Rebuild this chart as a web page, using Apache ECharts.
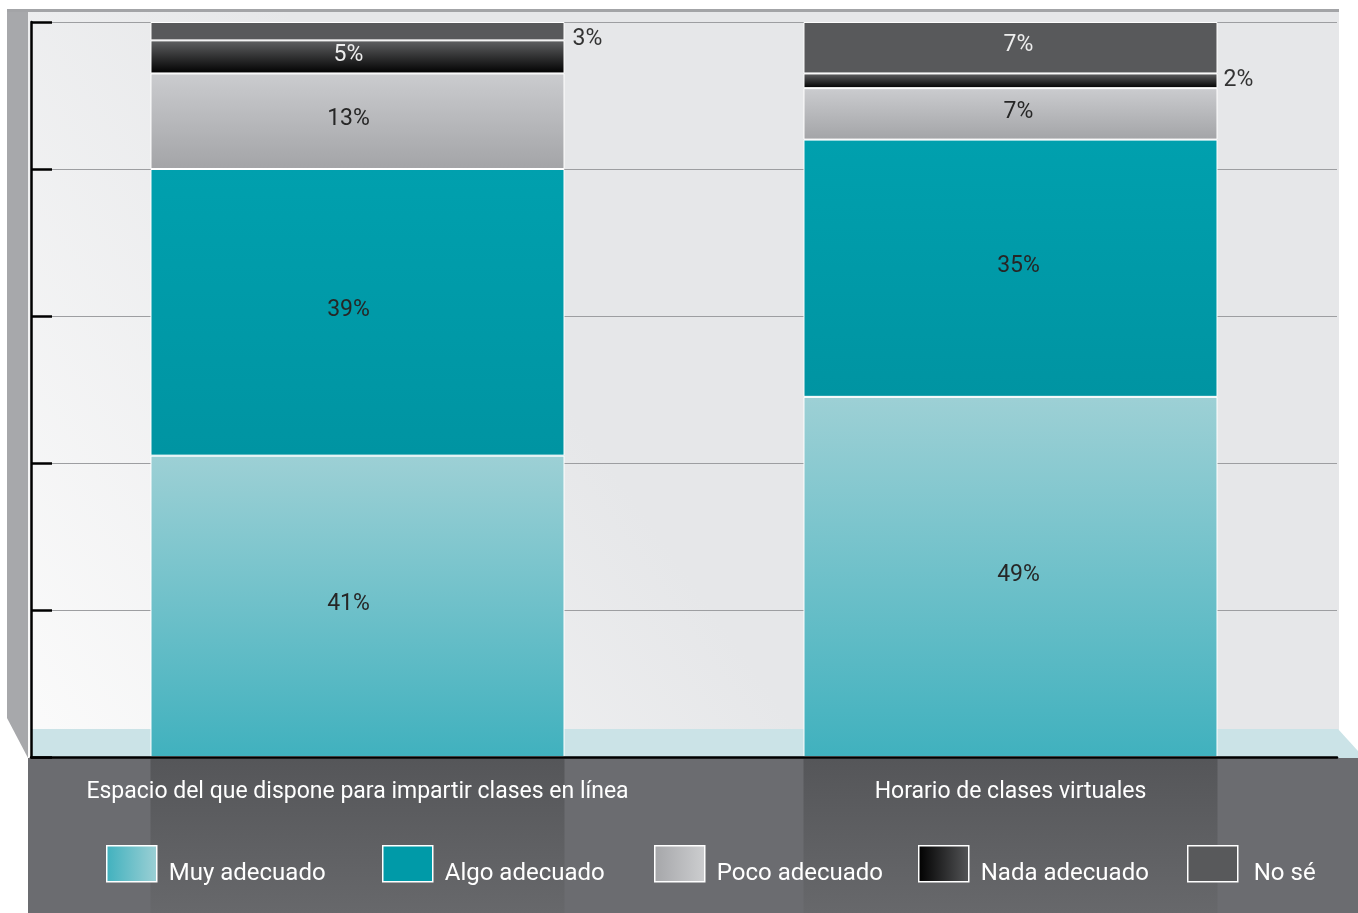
<!DOCTYPE html>
<html>
<head>
<meta charset="UTF-8">
<title>Valoración de espacio y horario</title>
<script src="https://cdn.jsdelivr.net/npm/echarts@6/dist/echarts.min.js"></script>
<style>
  body { margin: 0; background: #fff; }
</style>
</head>
<body>
<div id="main" style="width: 1358px;height:913px;"></div>
<script type="text/javascript">
// datos (porcentajes)
var categories = ['Espacio del que dispone para impartir clases en línea', 'Horario de clases virtuales'];
var seriesNames = ['Muy adecuado', 'Algo adecuado', 'Poco adecuado', 'Nada adecuado', 'No sé'];
var muyAdecuado = [41, 49];
var algoAdecuado = [39, 35];
var pocoAdecuado = [13, 7];
var nadaAdecuado = [4.5, 2];
var noSe = [2.5, 7];
var yTicks = [0, 20, 40, 60, 80, 100];

var FONT = 'Roboto';

function vgrad(top, bottom) {
    return new echarts.graphic.LinearGradient(0, 0, 0, 1, [
        {offset: 0, color: top}, {offset: 1, color: bottom}
    ]);
}
function hgrad(left, right) {
    return new echarts.graphic.LinearGradient(0, 0, 1, 0, [
        {offset: 0, color: left}, {offset: 1, color: right}
    ]);
}

var colors = [
    vgrad('#9dd0d5', '#40b1be'),
    vgrad('#00a0ae', '#0094a2'),
    vgrad('#cbcccf', '#a3a4a7'),
    vgrad('#606163', '#000000'),
    '#58595b'
];
var legendColors = [
    hgrad('#40b1be', '#9dd0d5'),
    '#009aa8',
    hgrad('#a5a6a9', '#cdced0'),
    hgrad('#000000', '#555658'),
    '#58595b'
];
var labelColors = ['#262626', '#262626', '#262626', '#eeeeee', '#eeeeee'];

// desplazamiento de etiquetas por columna (efecto 3D del original)
var insideShift = [[-9, -2], [8, -2]];
var outsideShift = [[0, 8], [-2, -1]];

function buildData(values) {
    return values.map(function (v, j) {
        if (v < 3.5) {
            return {value: v, label: {position: 'right', distance: 8, color: '#333', offset: outsideShift[j]}};
        }
        return {value: v, label: {offset: insideShift[j]}};
    });
}

var allValues = [muyAdecuado, algoAdecuado, pocoAdecuado, nadaAdecuado, noSe];
var series = allValues.map(function (vals, i) {
    return {
        name: seriesNames[i],
        type: 'bar',
        stack: 'total',
        barWidth: '63.4%',
        itemStyle: {color: colors[i], borderColor: '#ffffff', borderWidth: 1},
        label: {
            show: true,
            position: 'inside',
            color: labelColors[i],
            fontFamily: FONT,
            fontSize: 23,
            formatter: function (p) { return Math.round(p.value) + '%'; }
        },
        data: buildData(vals)
    };
});

// una leyenda por elemento para respetar las posiciones del original
var legendLeft = [106, 382, 654, 918, 1187];
var legendTextGap = [7, 7, 7, 7, 11];
var legends = seriesNames.map(function (n, i) {
    return {
        left: legendLeft[i],
        top: 845,
        padding: 0,
        itemWidth: 50,
        itemHeight: 36,
        icon: 'rect',
        itemStyle: {borderColor: '#ffffff', borderWidth: 1.5},
        formatter: '{t|{name}}',
        textStyle: {
            rich: {
                t: {color: '#ffffff', fontSize: 24, fontFamily: FONT, padding: [20, 0, 0, legendTextGap[i]]}
            }
        },
        data: [{name: n, itemStyle: {color: legendColors[i]}}]
    };
});

var myChart = echarts.init(document.getElementById('main'));

var background = [
    // linea superior
    {type: 'rect', z: -10, shape: {x: 7, y: 9, width: 1332, height: 3}, style: {fill: '#a3a4a7'}},
    // pared del fondo
    {type: 'rect', z: -10, shape: {x: 28, y: 12, width: 1311, height: 745},
        style: {fill: new echarts.graphic.LinearGradient(0, 1, 0.4, 0.5, [
            {offset: 0, color: '#fbfbfb'}, {offset: 1, color: '#e6e7e9'}])}},
    // pared lateral
    {type: 'polygon', z: -10, shape: {points: [[7, 12], [28, 12], [28, 758], [7, 718]]}, style: {fill: '#a7a8ab'}},
    // suelo
    {type: 'polygon', z: -10, shape: {points: [[31, 729], [1338, 729], [1358, 751], [1358, 758], [31, 758]]}, style: {fill: '#cbe3e7'}},
    // banda inferior
    {type: 'rect', z: -10, shape: {x: 28, y: 758, width: 1330, height: 155}, style: {fill: '#6b6c70'}}
];

var option = {
    animation: false,
    textStyle: {fontFamily: FONT},
    grid: {left: 31, right: 21, top: 22, bottom: 156},
    legend: legends,
    xAxis: {
        type: 'category',
        data: categories,
        axisLine: {lineStyle: {color: '#000000', width: 2.5}},
        axisTick: {show: false},
        axisLabel: {color: '#ffffff', fontSize: 23, fontFamily: FONT, margin: 24, interval: 0},
        z: 5
    },
    yAxis: {
        type: 'value',
        min: yTicks[0],
        max: yTicks[yTicks.length - 1],
        interval: 20,
        axisLine: {show: true, lineStyle: {color: '#000000', width: 2.5}},
        axisTick: {show: true, inside: true, length: 21, lineStyle: {color: '#000000', width: 2.5}},
        axisLabel: {show: false},
        splitLine: {lineStyle: {color: '#9d9ea1', width: 1}}
    },
    graphic: background,
    series: series
};

myChart.setOption(option);

// sombras de las columnas en la banda inferior
var bandW = (1358 - 31 - 21) / categories.length;
var barW = bandW * 0.634;
var shadows = categories.map(function (c) {
    var cx = myChart.convertToPixel({xAxisIndex: 0}, c);
    return {
        type: 'rect', z: -9,
        shape: {x: cx - barW / 2, y: 759, width: barW, height: 154},
        style: {fill: vgrad('#555659', '#67686b')}
    };
});
myChart.setOption({graphic: background.concat(shadows)});
</script>
</body>
</html>
